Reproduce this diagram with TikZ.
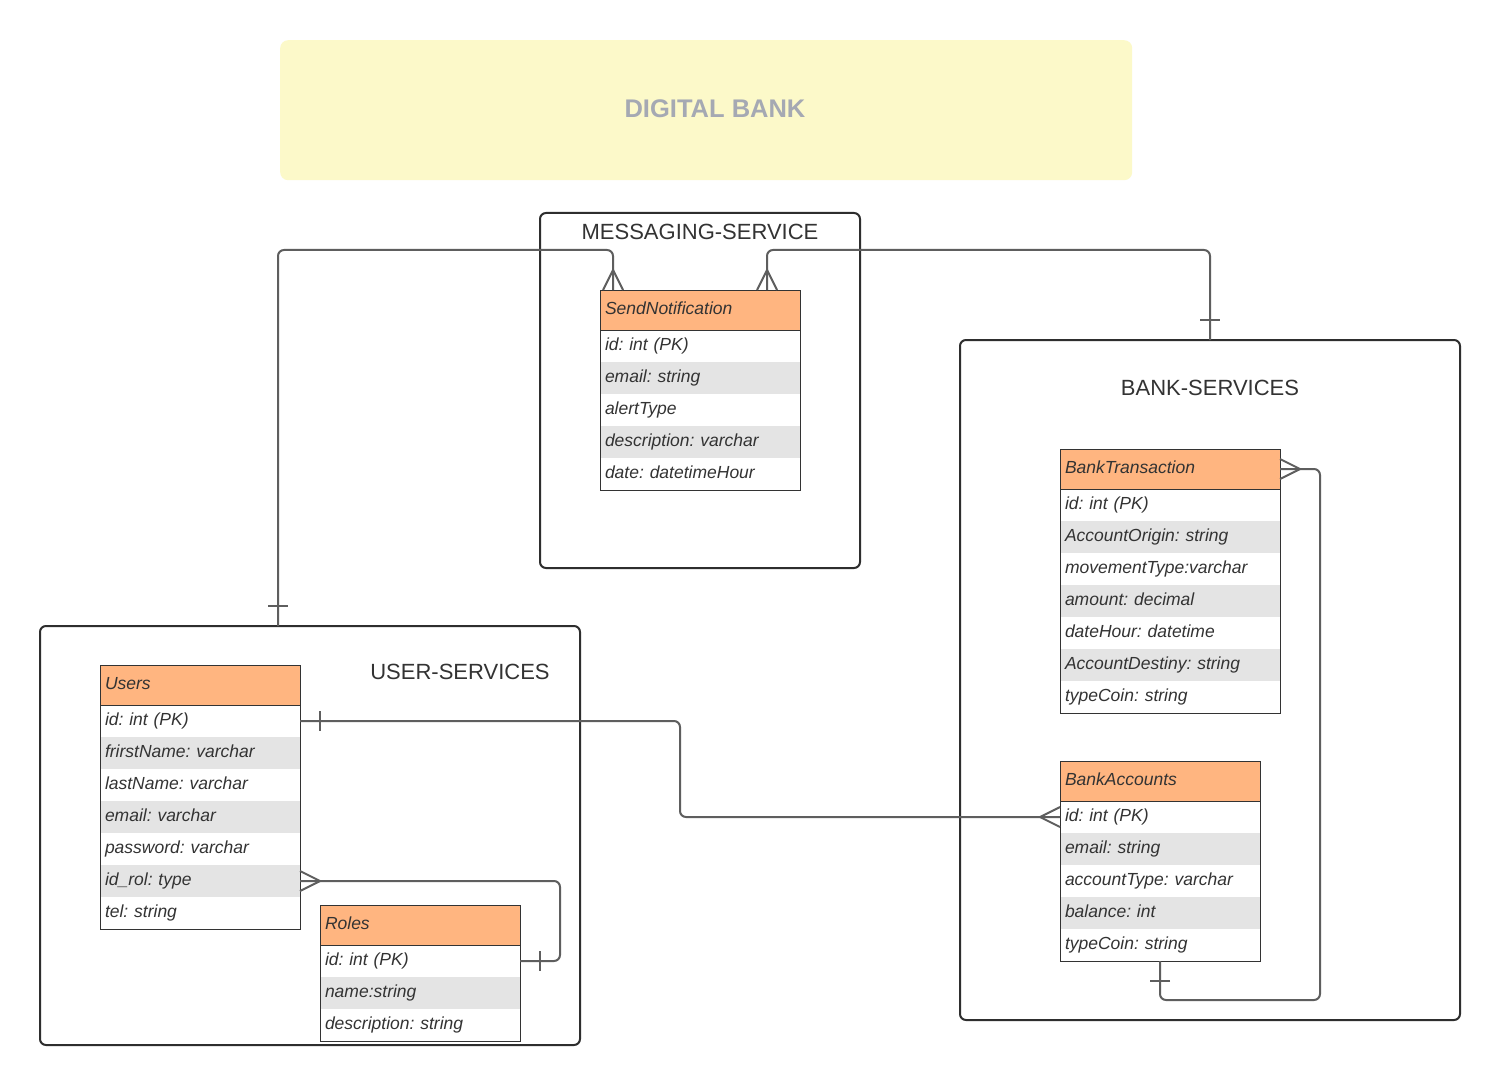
\documentclass[tikz,border=0pt]{standalone}
\usepackage{fontspec}
\setmainfont{Liberation Sans}
\frenchspacing
\definecolor{hdrorange}{HTML}{FFB580}
\definecolor{rowgray}{HTML}{E4E4E4}
\definecolor{titlefill}{HTML}{FCF9C9}
\definecolor{titletext}{HTML}{A5A9B3}
\definecolor{boxline}{HTML}{2E2E2E}
\definecolor{connline}{HTML}{5E5E5E}
\definecolor{txt}{HTML}{333333}
\tikzset{
  cont/.style={draw=boxline, line width=2pt, rounded corners=6pt, anchor=north west, inner sep=0pt, outer sep=0pt},
  conttitle/.style={font=\fontsize{22}{26}\selectfont, text=txt, inner sep=0pt},
  hdr/.style={fill=hdrorange, anchor=north west, minimum height=40pt, text width=#1, text height=13pt, text depth=4pt, inner xsep=5pt, inner ysep=0pt, outer sep=0pt, align=left, font=\fontsize{17.5}{20}\selectfont\itshape, text=txt},
  rw/.style={fill=white, anchor=north west, minimum height=32pt, text width=#1, text height=13pt, text depth=4pt, inner xsep=5pt, inner ysep=0pt, outer sep=0pt, align=left, font=\fontsize{17.5}{20}\selectfont\itshape, text=txt},
  rg/.style={rw=#1, fill=rowgray},
  tline/.style={draw=txt, line width=1pt},
  conn/.style={draw=connline, line width=2pt, rounded corners=6pt},
  crow/.pic={\draw[draw=connline, line width=2pt] (0,-10) -- (20,0) -- (0,10);},
  onebar/.pic={\draw[draw=connline, line width=2pt] (20,-10) -- (20,10);}
}
\begin{document}
\begin{tikzpicture}[x=1pt,y=-1pt]
\useasboundingbox[fill=white] (0,0) rectangle (1510,1086);

% title
\node[fill=titlefill, rounded corners=8pt, anchor=north west, minimum width=852pt, minimum height=140pt, inner sep=0pt] (title) at (280,40) {};
\node[font=\fontsize{25.5}{30}\selectfont\bfseries, text=titletext, inner sep=0pt] (titletxt) at (715,109) {DIGITAL BANK};

% containers
\node[cont, minimum width=320pt, minimum height=355pt] (msrv) at (540,213) {};
\node[conttitle] (msrvT) at (700,232) {MESSAGING-SERVICE};
\node[cont, minimum width=500pt, minimum height=680pt] (bsrv) at (960,340) {};
\node[conttitle] (bsrvT) at (1210,388) {BANK-SERVICES};
\node[cont, minimum width=540pt, minimum height=419pt] (usrv) at (40,626) {};
\node[conttitle] (usrvT) at (460,672) {USER-SERVICES};

% SendNotification
\node[hdr=190pt] (snh) at (600,290) {SendNotification};
\node[rw=190pt] (sn1) at (snh.south west) {id: int (PK)};
\node[rg=190pt] (sn2) at (sn1.south west) {email: string};
\node[rw=190pt] (sn3) at (sn2.south west) {alertType};
\node[rg=190pt] (sn4) at (sn3.south west) {description: varchar};
\node[rw=190pt] (sn5) at (sn4.south west) {date: datetimeHour};
\draw[tline] (snh.north west) rectangle (sn5.south east);
\draw[tline] (snh.south west) -- (snh.south east);

% BankTransaction
\node[hdr=210pt] (bth) at (1060,449) {BankTransaction};
\node[rw=210pt] (bt1) at (bth.south west) {id: int (PK)};
\node[rg=210pt] (bt2) at (bt1.south west) {AccountOrigin: string};
\node[rw=210pt] (bt3) at (bt2.south west) {movementType:varchar};
\node[rg=210pt] (bt4) at (bt3.south west) {amount: decimal};
\node[rw=210pt] (bt5) at (bt4.south west) {dateHour: datetime};
\node[rg=210pt] (bt6) at (bt5.south west) {AccountDestiny: string};
\node[rw=210pt] (bt7) at (bt6.south west) {typeCoin: string};
\draw[tline] (bth.north west) rectangle (bt7.south east);
\draw[tline] (bth.south west) -- (bth.south east);

% BankAccounts
\node[hdr=190pt] (bah) at (1060,761) {BankAccounts};
\node[rw=190pt] (ba1) at (bah.south west) {id: int (PK)};
\node[rg=190pt] (ba2) at (ba1.south west) {email: string};
\node[rw=190pt] (ba3) at (ba2.south west) {accountType: varchar};
\node[rg=190pt] (ba4) at (ba3.south west) {balance: int};
\node[rw=190pt] (ba5) at (ba4.south west) {typeCoin: string};
\draw[tline] (bah.north west) rectangle (ba5.south east);
\draw[tline] (bah.south west) -- (bah.south east);

% Users
\node[hdr=190pt] (ush) at (100,665) {Users};
\node[rw=190pt] (us1) at (ush.south west) {id: int (PK)};
\node[rg=190pt] (us2) at (us1.south west) {frirstName: varchar};
\node[rw=190pt] (us3) at (us2.south west) {lastName: varchar};
\node[rg=190pt] (us4) at (us3.south west) {email: varchar};
\node[rw=190pt] (us5) at (us4.south west) {password: varchar};
\node[rg=190pt] (us6) at (us5.south west) {id\_rol: type};
\node[rw=190pt] (us7) at (us6.south west) {tel: string};
\draw[tline] (ush.north west) rectangle (us7.south east);
\draw[tline] (ush.south west) -- (ush.south east);

% Roles
\node[hdr=190pt] (roh) at (320,905) {Roles};
\node[rw=190pt] (ro1) at (roh.south west) {id: int (PK)};
\node[rg=190pt] (ro2) at (ro1.south west) {name:string};
\node[rw=190pt] (ro3) at (ro2.south west) {description: string};
\draw[tline] (roh.north west) rectangle (ro3.south east);
\draw[tline] (roh.south west) -- (roh.south east);

% connectors
\draw[conn] ([xshift=238pt]usrv.north west) -- (278,250) -- (613,250) -- ([xshift=13pt]snh.north west);
\pic[rotate=90] at ([xshift=238pt]usrv.north west) {onebar};
\pic[rotate=90] at ([xshift=13pt]snh.north west) {crow};

\draw[conn] ([xshift=250pt]bsrv.north west) -- (1210,250) -- (767,250) -- ([xshift=167pt]snh.north west);
\pic[rotate=90] at ([xshift=250pt]bsrv.north west) {onebar};
\pic[rotate=90] at ([xshift=167pt]snh.north west) {crow};

\draw[conn] (us1.east) -- (680,721) -- (680,817) -- (ba1.west);
\pic at (us1.east) {onebar};
\pic[rotate=180] at (ba1.west) {crow};

\draw[conn] (us6.east) -- (560,881) -- (560,961) -- (ro1.east);
\pic at (us6.east) {crow};
\pic at (ro1.east) {onebar};

\draw[conn] (bth.east) -- (1320,469) -- (1320,1000) -- (1160,1000) -- ([xshift=100pt]ba5.south west);
\pic at (bth.east) {crow};
\pic[rotate=-90] at ([xshift=100pt]ba5.south west) {onebar};
\end{tikzpicture}
\end{document}
